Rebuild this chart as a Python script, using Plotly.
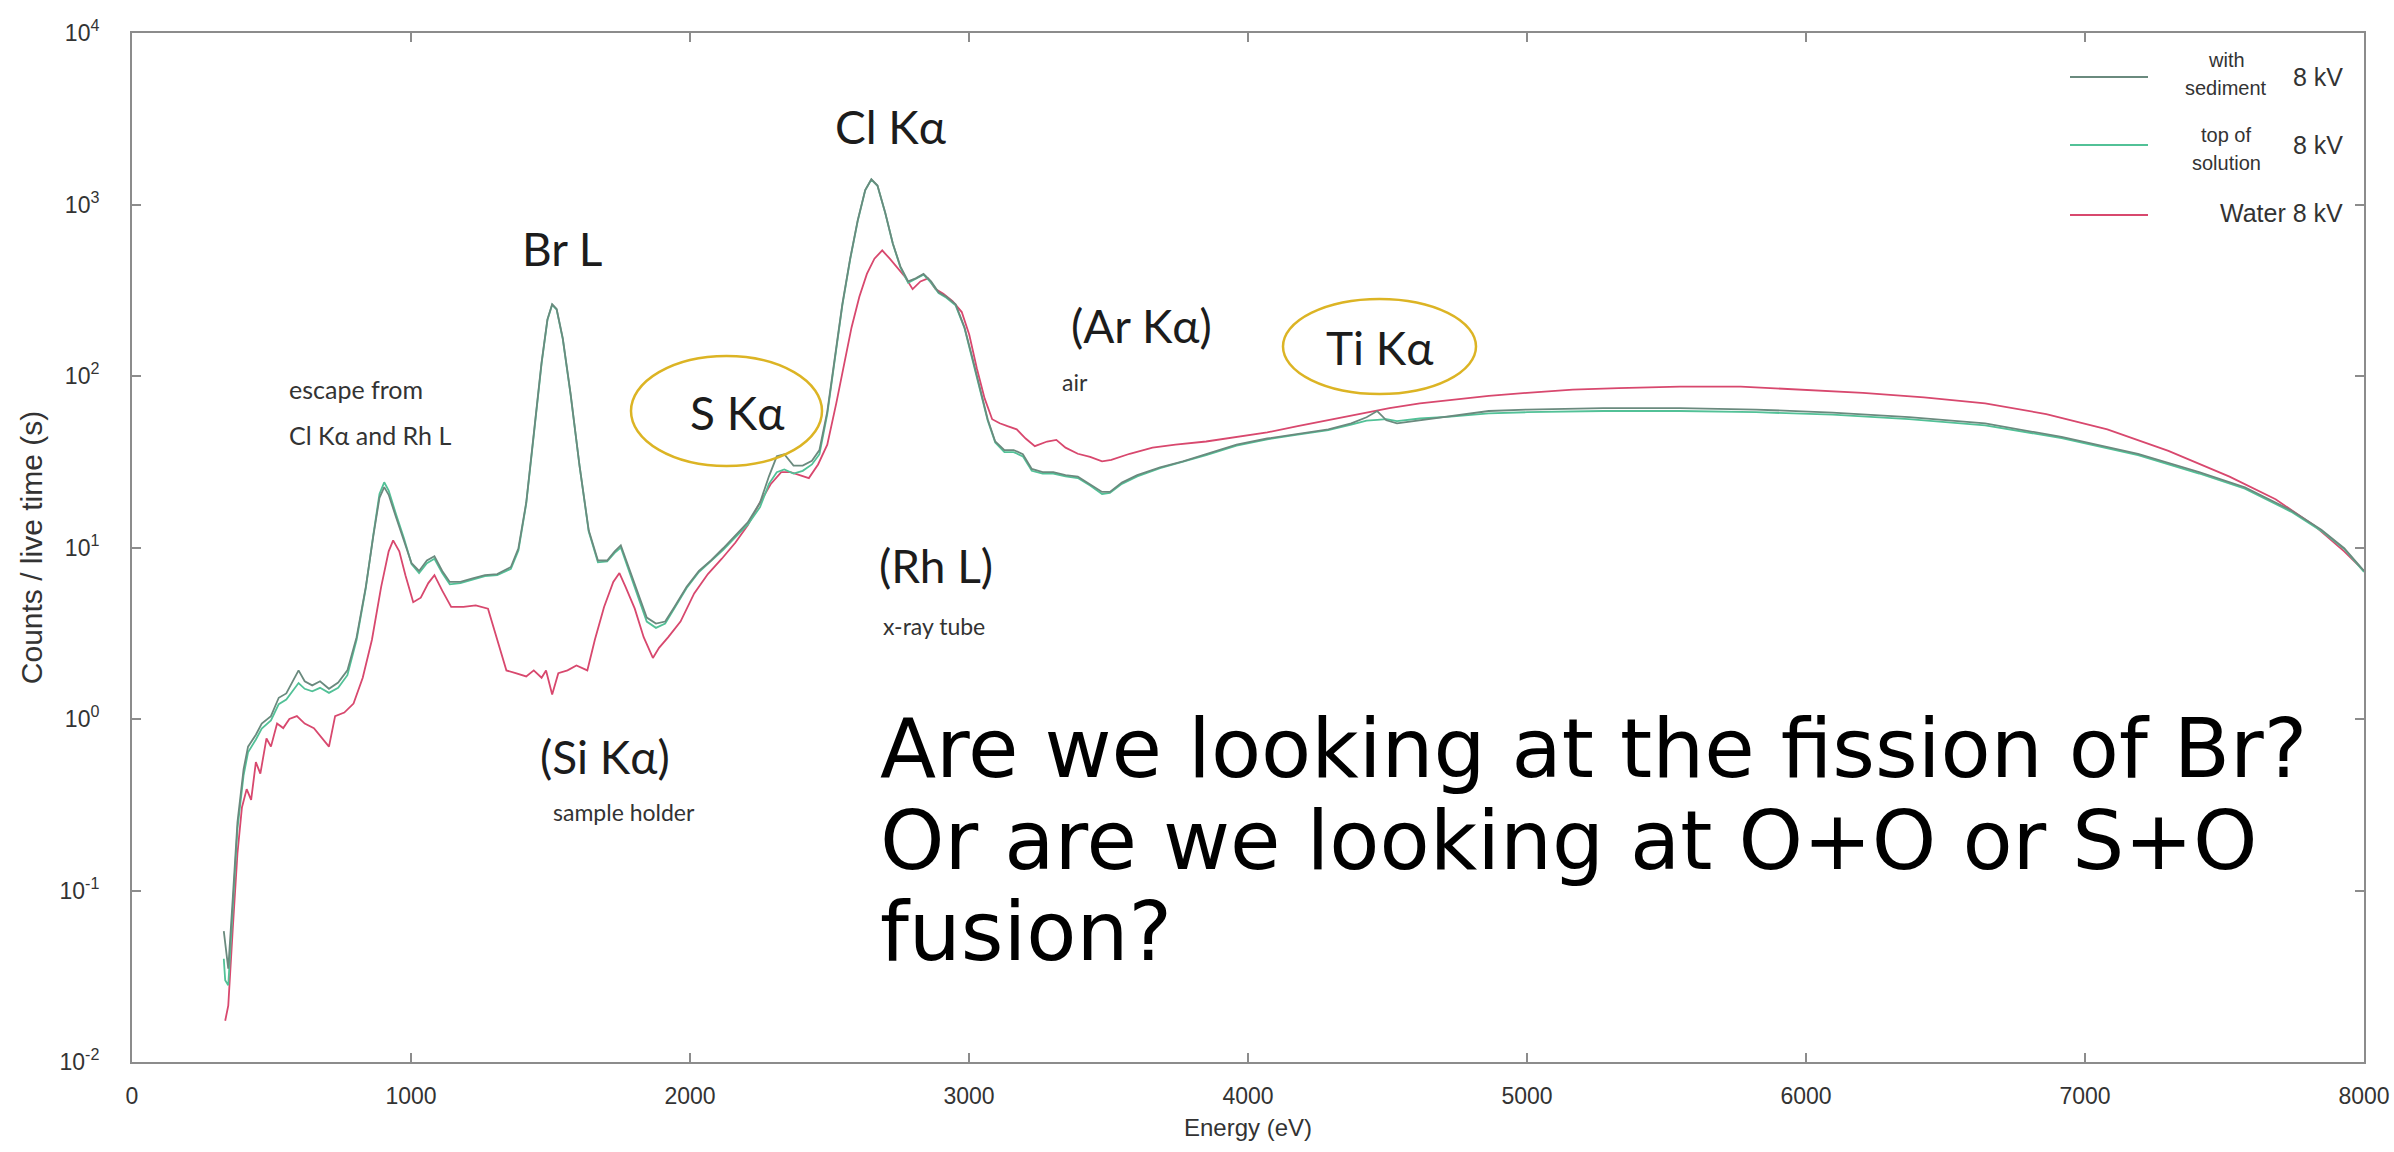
import plotly.graph_objects as go

# ---------------- data ----------------
energy_green = [329, 334, 345, 361, 378, 400, 416, 444, 465, 498, 526, 553, 575, 597, 619, 646, 674, 706, 739, 772,
                805, 838, 865, 887, 904, 920, 947, 975, 1002, 1029, 1057, 1084, 1112, 1139, 1177, 1221, 1265, 1309,
                1358, 1385, 1413, 1440, 1468, 1489, 1506, 1522, 1544, 1572, 1604, 1637, 1670, 1703, 1730, 1752, 1780,
                1813, 1845, 1878, 1911, 1944, 1988, 2032, 2075, 2119, 2163, 2207, 2251, 2283, 2311, 2338, 2371, 2404,
                2437, 2464, 2492, 2519, 2546, 2574, 2601, 2628, 2650, 2672, 2700, 2727, 2754, 2782, 2809, 2837, 2864,
                2891, 2919, 2952, 2984, 3012, 3039, 3067, 3094, 3127, 3160, 3193, 3225, 3264, 3302, 3346, 3390, 3434,
                3477, 3505, 3548, 3603, 3685, 3767, 3850, 3959, 4069, 4178, 4288, 4370, 4425, 4463, 4496, 4534, 4616,
                4726, 4863, 5000, 5273, 5548, 5821, 6095, 6369, 6642, 6916, 7190, 7409, 7573, 7738, 7847, 7929, 8000]

with_sediment = [0.058, 0.048, 0.035, 0.089, 0.25, 0.51, 0.69, 0.81, 0.94, 1.04, 1.33, 1.41, 1.63, 1.92, 1.66, 1.57,
                 1.66, 1.5, 1.63, 1.92, 3.0, 5.9, 11.7, 19.5, 22.5, 20.3, 14.9, 11.0, 8.1, 7.3, 8.4, 8.9, 7.3, 6.3,
                 6.3, 6.6, 6.9, 7.0, 7.7, 9.9, 18.3, 46, 120, 214, 262, 246, 166, 79, 30, 12.6, 8.4, 8.4, 9.5, 10.3,
                 7.7, 5.4, 3.9, 3.6, 3.7, 4.5, 5.9, 7.3, 8.4, 9.9, 11.7, 14.0, 18.3, 26, 34, 35, 30, 30, 32, 37, 62,
                 128, 262, 483, 807, 1214, 1402, 1290, 893, 593, 436, 356, 371, 394, 356, 308, 290, 262, 192, 128,
                 85, 56, 41.5, 37, 37, 35, 28.7, 27.5, 27.5, 26.4, 25.9, 23.4, 21.1, 21.1, 23.9, 26.4, 29.3, 31.8,
                 35, 39.8, 43.2, 46, 48.9, 53, 57.5, 62.5, 55.2, 53, 55.2, 58.7, 62.5, 63.7, 65, 65, 63.7, 61.2,
                 57.5, 53, 44.1, 35.2, 27.5, 22.4, 16.5, 12.7, 9.9, 7.3]

top_of_solution = [0.040, 0.030, 0.028, 0.080, 0.23, 0.47, 0.64, 0.76, 0.88, 0.98, 1.22, 1.3, 1.45, 1.62, 1.5, 1.45,
                   1.52, 1.42, 1.52, 1.8, 2.9, 5.8, 11.9, 20.5, 24.0, 21.5, 15.5, 11.3, 8.0, 7.1, 8.1, 8.6, 7.1, 6.1,
                   6.2, 6.5, 6.8, 6.9, 7.5, 9.6, 18.0, 45, 118, 212, 260, 244, 164, 78, 30, 12.4, 8.2, 8.3, 9.3, 10.0,
                   7.5, 5.2, 3.7, 3.4, 3.6, 4.4, 5.8, 7.2, 8.3, 9.7, 11.5, 13.6, 17.2, 23.5, 27.5, 28.5, 27.0, 28.0,
                   30.5, 35, 60, 126, 258, 478, 800, 1210, 1398, 1285, 890, 590, 430, 350, 368, 390, 350, 304, 286,
                   258, 190, 126, 84, 55, 41, 36, 36, 34, 28, 27, 27, 26, 25.4, 23, 20.5, 20.8, 23.5, 26, 29, 31.5, 34.6,
                   39.3, 42.7, 45.5, 48.4, 52, 55, 55.5, 56, 54.5, 56.5, 58, 60.5, 61.5, 62.5, 62.5, 61.5, 59.5, 56,
                   51.5, 43.5, 34.6, 27.0, 22.0, 16.2, 12.5, 9.8, 7.2]

energy_water = [334, 345, 361, 378, 394, 411, 427, 444, 460, 482, 498, 520, 542, 564, 591, 619, 652, 684, 706, 728,
                761, 794, 827, 860, 893, 920, 936, 958, 980, 1008, 1035, 1062, 1084, 1112, 1144, 1188, 1232, 1276,
                1309, 1342, 1375, 1413, 1440, 1468, 1484, 1506, 1528, 1561, 1593, 1632, 1659, 1692, 1725, 1747, 1769,
                1802, 1834, 1867, 1889, 1922, 1966, 2015, 2064, 2114, 2163, 2207, 2251, 2289, 2327, 2360, 2393, 2426,
                2459, 2492, 2524, 2552, 2579, 2607, 2634, 2661, 2689, 2716, 2743, 2771, 2798, 2826, 2853, 2880, 2908,
                2941, 2974, 3001, 3028, 3056, 3083, 3110, 3138, 3171, 3203, 3236, 3280, 3313, 3346, 3390, 3434, 3477,
                3510, 3576, 3658, 3740, 3850, 3959, 4069, 4178, 4288, 4397, 4507, 4616, 4726, 4863, 5000, 5164, 5328,
                5548, 5766, 5985, 6204, 6423, 6642, 6861, 7080, 7299, 7518, 7683, 7820, 7929, 8000]

water = [0.0174, 0.0213, 0.059, 0.165, 0.305, 0.39, 0.338, 0.56, 0.48, 0.77, 0.69, 0.94, 0.885, 1.0, 1.04, 0.94,
         0.885, 0.77, 0.69, 1.04, 1.09, 1.23, 1.74, 2.9, 5.9, 9.5, 11.0, 9.5, 6.9, 4.8, 5.1, 6.2, 6.9, 5.6, 4.5, 4.5,
         4.6, 4.4, 2.9, 1.92, 1.85, 1.77, 1.92, 1.74, 1.92, 1.39, 1.85, 1.92, 2.05, 1.92, 2.9, 4.5, 6.3, 7.1, 5.9,
         4.4, 3.0, 2.27, 2.6, 3.0, 3.7, 5.4, 7.0, 8.6, 10.7, 13.5, 18.3, 23.4, 27.5, 27.5, 26.4, 25.4, 30.5, 39.8,
         69, 115, 192, 290, 394, 483, 540, 483, 428, 378, 321, 356, 371, 321, 302, 273, 236, 174, 111, 74, 56, 53,
         51, 48.9, 43.2, 39, 41.5, 42.4, 38.2, 35.2, 33.8, 31.8, 32.4, 35.2, 38.2, 39.8, 41.5, 44.1, 46.9, 51,
         55.2, 60, 65, 69.2, 72.1, 76.6, 79.8, 83.2, 84.9, 86.7, 86.7, 83.2, 79.8, 75.1, 69.2, 60, 48.9, 36.6,
         25.9, 19.1, 13.5, 9.5, 7.3]

series_names = ["with sediment 8 kV", "top of solution 8 kV", "Water 8 kV"]
x_tick_vals = [0, 1000, 2000, 3000, 4000, 5000, 6000, 7000, 8000]
y_tick_exps = [-2, -1, 0, 1, 2, 3, 4]

# ---------------- styling ----------------
W, H = 2394, 1152
L, R, T, B = 132, 30, 33, 90
PW, PH = W - L - R, H - T - B

C_SED = "#6a8a7e"
C_TOP = "#52c197"
C_WAT = "#d8486e"
C_ELL = "#dcb424"
AX_COL = "#8c8c8c"
TXT = "#1c1c1c"
ANN_FONT = "Lato"
AX_FONT = "Liberation Sans"


def px(x):
    return (x - L) / PW


def py(y):
    return (T + PH - y) / PH


fig = go.Figure()
fig.add_trace(go.Scatter(x=energy_water, y=water, mode="lines", name=series_names[2],
                         line=dict(color=C_WAT, width=1.8), showlegend=False))
fig.add_trace(go.Scatter(x=energy_green, y=top_of_solution, mode="lines", name=series_names[1],
                         line=dict(color=C_TOP, width=1.8), showlegend=False))
fig.add_trace(go.Scatter(x=energy_green, y=with_sediment, mode="lines", name=series_names[0],
                         line=dict(color=C_SED, width=1.8), showlegend=False))

axis_common = dict(showline=True, linecolor=AX_COL, linewidth=2, mirror="ticks", ticks="inside",
                   ticklen=9, tickcolor=AX_COL, tickwidth=1.5, showgrid=False, zeroline=False,
                   tickfont=dict(family=AX_FONT, size=23, color="#333333"))

fig.update_xaxes(range=[0, 8000], tickvals=x_tick_vals, ticktext=[str(v) for v in x_tick_vals],
                 ticklabelstandoff=12,
                 title=dict(text="Energy (eV)", font=dict(family=AX_FONT, size=24, color="#333333"), standoff=12),
                 **axis_common)
fig.update_yaxes(type="log", range=[-2, 4], tickvals=[10 ** e for e in y_tick_exps],
                 ticktext=[f"10<sup>{e}</sup>" for e in y_tick_exps], ticklabelstandoff=26,
                 title=dict(text="Counts / live time (s)", font=dict(family=AX_FONT, size=30, color="#333333"),
                            standoff=8),
                 **axis_common)

annotations = []


def ann(text, x, y, size, color=TXT, xanchor="center", family=ANN_FONT):
    annotations.append(dict(text=text, x=px(x), y=py(y), xref="paper", yref="paper", showarrow=False,
                            xanchor=xanchor, yanchor="middle", font=dict(family=family, size=size, color=color)))


# peak labels
ann("Cl Kα", 890, 127, 46)
ann("Br L", 562, 249, 46)
ann("S Kα", 737, 412, 46)
ann("(Ar Kα)", 1141, 325, 46)
ann("Ti Kα", 1380, 347, 46)
ann("(Rh L)", 936, 565, 46)
ann("(Si Kα)", 605, 756, 46)
# small sub-labels
ann("escape from", 287, 389, 25, "#333333", "left")
ann("Cl Kα and Rh L", 287, 435, 25, "#333333", "left")
ann("air", 1060, 382, 23, "#333333", "left")
ann("x-ray tube", 934, 626, 23, "#333333")
ann("sample holder", 624, 812, 23, "#333333")
# big question
big_font = "DejaVu Sans"
ann("Are we looking at the fission of Br?", 878, 748, 82, "#000000", "left", big_font)
ann("Or are we looking at O+O or S+O", 878, 840, 82, "#000000", "left", big_font)
ann("fusion?", 878, 931, 82, "#000000", "left", big_font)

# legend (custom, inside upper right)
leg_rows = [
    (series_names[0], C_SED, 77, ["with", "sediment"], [60, 88]),
    (series_names[1], C_TOP, 145, ["top of", "solution"], [135, 163]),
]
shapes = []
for name, col, yl, subs, sub_y in leg_rows:
    shapes.append(dict(type="line", xref="paper", yref="paper", x0=px(2070), x1=px(2148), y0=py(yl), y1=py(yl),
                       line=dict(color=col, width=2)))
    for s, sy in zip(subs, sub_y):
        ann(s, 2226, sy, 20, "#333333", "center", AX_FONT)
    ann("8 kV", 2345, yl, 25, "#333333", "right", AX_FONT)
shapes.append(dict(type="line", xref="paper", yref="paper", x0=px(2070), x1=px(2148), y0=py(215), y1=py(215),
                   line=dict(color=C_WAT, width=2)))
ann("Water 8 kV", 2345, 213, 25, "#333333", "right", AX_FONT)

# ellipses
for x0, x1, y0, y1 in [(631, 822, 356, 466), (1283, 1476, 299, 394)]:
    shapes.append(dict(type="circle", xref="paper", yref="paper", x0=px(x0), x1=px(x1), y0=py(y1), y1=py(y0),
                       line=dict(color=C_ELL, width=2.5)))

fig.update_layout(width=W, height=H, margin=dict(l=L, r=R, t=T, b=B, autoexpand=False),
                  paper_bgcolor="white", plot_bgcolor="white", showlegend=False,
                  annotations=annotations, shapes=shapes)

fig.write_html("out.html")
